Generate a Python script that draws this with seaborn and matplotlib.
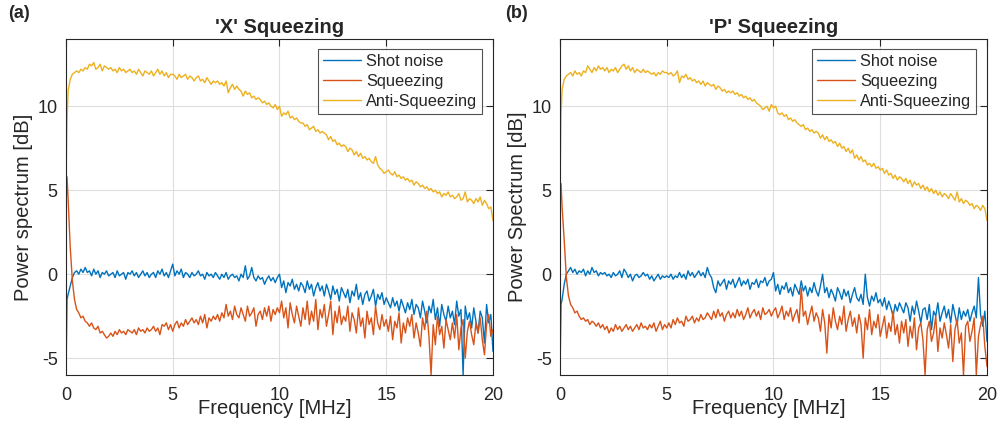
import matplotlib
matplotlib.use("Agg")
import matplotlib.pyplot as plt
import seaborn as sns
import pandas as pd

# frequency grid [MHz]: 0, 0.05, then 0.1 ... 20.0
freq = [0.0, 0.05] + [round(0.1 * i, 1) for i in range(1, 201)]

# ---- panel (a): 'X' squeezing ----
shot_a = [-6.0, -1.5,
    -1.2, -0.7, -0.2, 0.1, 0.2, 0.0, 0.3, 0.1, 0.4, 0.1,
    0.2, -0.1, 0.3, 0.0, 0.2, -0.2, 0.1, 0.0, 0.2, -0.1,
    0.0, 0.1, -0.2, 0.2, -0.1, 0.0, 0.1, -0.3, 0.1, 0.0,
    0.2, -0.1, 0.1, -0.2, 0.0, 0.2, -0.1, 0.1, -0.2, 0.0,
    0.1, -0.2, 0.2, 0.0, 0.3, -0.1, 0.1, -0.2, 0.2, 0.6,
    -0.1, 0.2, 0.0, 0.3, -0.2, 0.1, 0.0, -0.2, 0.1, -0.1,
    0.0, 0.2, -0.1, 0.0, -0.3, 0.1, -0.1, 0.0, -0.2, 0.1,
    -0.1, -0.3, 0.0, -0.2, 0.1, -0.3, -0.1, 0.0, -0.2, -0.1,
    -0.4, 0.0, -0.2, 0.5, -0.3, -0.1, 0.4, -0.2, -0.4, -0.1,
    -0.3, -0.2, -0.6, -0.3, -0.1, -0.4, -0.2, -0.5, -0.2, 0.0,
    -0.8, -0.4, -1.1, -0.5, -0.7, -0.3, -0.9, -0.6, -1.0, -0.5,
    -0.7, -1.1, -0.4, -0.9, -0.6, -1.3, -0.8, -0.5, -1.0, -0.7,
    -1.3, -0.6, -1.0, -1.5, -0.7, -1.2, -0.9, -1.6, -0.8, -1.1,
    -1.4, -0.9, -1.7, -1.0, -1.3, -0.6, -1.5, -1.1, -1.8, -1.2,
    -1.0, -1.6, -1.3, -0.9, -1.9, -1.2, -1.5, -1.1, -1.8, -1.4,
    -1.7, -2.0, -1.4, -1.9, -1.6, -2.2, -1.5, -1.9, -2.3, -1.7,
    -2.1, -1.5, -2.4, -1.8, -2.0, -2.6, -1.6, -2.2, -2.9, -1.9,
    -2.3, -1.5, -2.7, -2.0, -3.1, -1.8, -2.4, -2.8, -1.9, -2.6,
    -2.2, -3.0, -1.6, -2.5, -2.1, -6.0, -1.9, -2.7, -2.3, -3.2,
    -2.0, -2.8, -3.5, -2.2, -2.6, -4.1, -1.8, -2.9, -2.4, -4.6]

sq_a = [4.0, 5.8,
    4.5, 1.6, -0.4, -1.5, -2.1, -2.3, -2.6, -2.5, -2.8, -2.9,
    -3.1, -2.9, -3.2, -3.3, -3.1, -3.5, -3.4, -3.6, -3.8, -3.7,
    -3.5, -3.7, -3.4, -3.6, -3.3, -3.5, -3.4, -3.6, -3.3, -3.4,
    -3.5, -3.3, -3.6, -3.2, -3.4, -3.3, -3.5, -3.2, -3.4, -3.3,
    -3.1, -3.4, -3.2, -3.6, -3.0, -3.1, -2.9, -3.3, -3.0, -3.4,
    -3.0, -2.8, -3.2, -2.9, -3.1, -2.7, -3.0, -2.8, -2.6, -2.9,
    -2.7, -3.0, -2.5, -2.9, -2.4, -3.2, -2.6, -2.8, -2.5, -2.7,
    -2.4, -2.8, -2.3, -2.6, -1.8, -2.5, -2.2, -2.7, -1.9, -2.4,
    -2.6, -2.0, -2.4, -2.8, -1.9, -2.5, -2.3, -2.0, -3.1, -2.4,
    -2.2, -2.7, -2.0, -2.5, -1.9, -2.8, -2.1, -2.4, -2.0, -2.3,
    -1.6, -2.6, -2.0, -3.2, -1.7, -2.4, -2.9, -1.9, -2.5, -3.1,
    -2.0, -2.7, -1.6, -3.0, -2.2, -2.8, -1.5, -3.3, -2.1, -2.6,
    -1.8, -3.1, -2.4, -1.6, -3.6, -2.2, -2.9, -1.9, -3.0, -2.5,
    -2.8, -1.9, -3.4, -2.3, -2.7, -3.5, -2.0, -3.1, -2.6, -3.8,
    -2.2, -3.0, -2.6, -3.6, -1.9, -2.9, -3.3, -2.4, -3.1, -2.7,
    -3.4, -2.5, -3.9, -2.8, -3.2, -2.3, -4.1, -2.9, -3.5, -2.6,
    -3.1, -2.4, -3.8, -2.9, -3.5, -4.3, -2.6, -3.3, -2.2, -3.7,
    -6.0, -3.0, -4.2, -2.5, -3.6, -3.1, -4.4, -2.7, -3.3, -3.9,
    -2.9, -3.8, -2.4, -4.5, -3.2, -2.7, -5.0, -3.4, -2.8, -3.6,
    -4.2, -2.9, -3.5, -2.6, -3.9, -4.8, -3.0, -2.4, -3.7, -3.3]

anti_a = [5.5, 9.2,
    10.9, 11.6, 11.9, 12.0, 12.1, 12.0, 12.2, 12.1, 12.3, 12.2,
    12.5, 12.4, 12.6, 12.2, 12.3, 12.5, 12.1, 12.4, 12.3, 12.2,
    12.3, 12.1, 12.2, 12.0, 12.3, 12.1, 12.2, 12.0, 12.1, 12.2,
    12.0, 12.1, 11.9, 12.2, 12.0, 11.8, 12.1, 12.0, 11.9, 12.1,
    11.8, 12.0, 12.2, 11.9, 12.1, 11.8, 12.0, 11.7, 11.9, 11.9,
    11.8, 11.6, 11.9, 11.7, 11.8, 11.9, 11.6, 11.8, 11.7, 11.5,
    11.7, 11.8, 11.5, 11.6, 11.4, 11.7, 11.5, 11.3, 11.5, 11.4,
    11.5, 11.3, 11.4, 11.2, 11.5, 10.8, 11.1, 11.3, 11.0, 11.2,
    11.0, 10.9, 10.6, 10.9, 10.7, 10.8, 10.5, 10.6, 10.4, 10.5,
    10.4, 10.2, 10.3, 10.1, 10.2, 10.0, 9.9, 10.1, 9.8, 10.0,
    9.4, 9.6, 9.5, 9.7, 9.3, 9.4, 9.2, 9.3, 9.1, 9.0,
    9.0, 8.8, 8.9, 8.6, 8.7, 8.8, 8.5, 8.6, 8.4, 8.5,
    8.4, 8.3, 8.0, 8.2, 7.9, 8.0, 7.7, 7.8, 7.6, 7.7,
    7.6, 7.3, 7.5, 7.4, 7.1, 7.3, 7.0, 7.2, 6.9, 7.0,
    6.8, 6.9, 6.7, 6.6, 7.0, 6.5, 6.3, 6.2, 6.0, 6.1,
    6.2, 6.0, 5.9, 6.1, 5.8, 5.9, 5.7, 5.8, 5.6, 5.7,
    5.5, 5.6, 5.3, 5.5, 5.4, 5.2, 5.3, 5.1, 5.2, 5.0,
    5.1, 4.9, 5.0, 4.8, 4.9, 4.6, 4.8, 4.7, 4.9, 4.6,
    4.7, 4.5, 4.6, 4.8, 4.4, 4.5, 4.9, 4.3, 4.5, 4.4,
    4.2, 4.5, 4.3, 4.6, 4.1, 4.4, 4.2, 3.9, 4.0, 3.2]

# ---- panel (b): 'P' squeezing ----
shot_b = [-6.0, -1.8,
    -1.5, -0.6, 0.0, 0.2, 0.4, 0.1, 0.3, 0.0, 0.2, 0.1,
    0.3, -0.1, 0.2, 0.0, 0.4, 0.1, 0.2, -0.1, 0.1, 0.0,
    0.1, -0.1, 0.0, -0.2, 0.1, -0.1, 0.0, 0.2, -0.2, 0.3,
    0.1, -0.2, 0.0, -0.4, -0.1, 0.0, -0.2, -0.1, 0.1, -0.1,
    0.0, -0.3, -0.1, -0.4, -0.2, 0.0, -0.3, -0.1, -0.2, -0.1,
    -0.2, 0.0, -0.3, -0.1, -0.2, 0.1, -0.2, 0.0, -0.3, 0.2,
    -0.1, 0.1, -0.2, 0.0, 0.2, -0.1, 0.1, -0.2, 0.4, 0.0,
    -0.2, -0.8, -1.1, -0.4, -0.7, -0.5, -0.3, -0.9, -0.4, -0.6,
    -0.3, -0.8, -0.5, -0.2, -0.7, -0.4, -0.6, -0.3, -0.9, -0.5,
    -0.6, -0.3, -0.8, -0.4, -0.5, -0.2, -0.7, -0.4, -0.3, 0.1,
    -1.0, -0.6, -1.2, -0.7, -0.9, -0.5, -1.1, -0.8, -1.3, -0.6,
    -0.9, -1.2, -0.4, -1.0, -0.7, -1.3, -0.8, -1.1, -0.5, -1.0,
    -1.3, -0.7, 0.0, -1.1, -0.8, -1.4, -0.9, -1.2, -1.6, -0.8,
    -1.1, -1.5, -0.9, -1.3, -1.0, -1.7, -1.2, -0.8, -1.4, -1.6,
    -1.2, -1.8, 0.0, -1.4, -1.9, -1.3, -1.6, -1.1, -1.7, -1.5,
    -1.9, -1.4, -2.1, -1.6, -2.0, -2.5, -1.8, -2.2, -1.7, -2.0,
    -2.3, -1.7, -2.0, -2.8, -1.9, -2.4, -1.6, -2.2, -2.9, -2.1,
    -2.0, -2.7, -1.8, -3.3, -2.2, -2.5, -1.7, -2.8, -2.3, -1.9,
    -2.6, -2.1, -2.9, -1.8, -2.4, -3.0, -2.0, -2.7, -2.2, -2.5,
    -2.1, -2.8, -2.3, -1.9, -2.6, -0.2, -2.4, -3.1, -2.2, -4.0]

sq_b = [4.5, 5.4,
    4.0, 2.0, -0.2, -1.3, -1.8, -2.0, -2.3, -2.2, -2.5, -2.7,
    -2.6, -2.8, -2.7, -3.0, -2.8, -2.9, -3.1, -2.9, -3.2, -3.0,
    -3.3, -3.1, -3.5, -3.2, -3.4, -3.0, -3.3, -3.1, -3.4, -3.2,
    -3.0, -3.3, -3.1, -3.4, -3.2, -3.0, -3.3, -2.9, -3.2, -3.1,
    -3.3, -3.0, -3.2, -2.9, -3.4, -3.1, -2.8, -3.3, -3.0, -3.2,
    -2.9, -3.2, -2.7, -3.0, -2.6, -2.9, -2.8, -3.1, -2.5, -2.8,
    -2.7, -2.5, -2.9, -2.6, -2.8, -2.4, -2.7, -2.6, -2.3, -2.5,
    -2.7, -2.2, -2.6, -2.1, -2.5, -2.3, -2.8, -2.4, -2.2, -2.6,
    -2.3, -2.6, -2.1, -2.5, -2.2, -2.7, -2.4, -2.0, -2.6, -2.3,
    -2.1, -2.5, -2.2, -2.7, -2.0, -2.4, -2.3, -2.1, -2.5, -2.2,
    -2.0, -2.6, -2.3, -1.9, -2.7, -2.2, -2.5, -2.0, -2.8, -2.4,
    -2.1, -2.9, -0.8, -2.5, -2.2, -3.0, -2.4, -1.9, -2.8, -2.3,
    -2.6, -3.4, -2.1, -2.9, -4.7, -2.4, -3.2, -2.0, -2.8, -3.3,
    -2.5, -3.0, -1.9, -3.4, -2.7, -2.2, -3.1, -2.6, -3.5, -2.4,
    -3.0, -5.0, -2.6, -3.3, -2.1, -3.6, -2.8, -3.2, -2.4, -3.7,
    -3.1, -2.5, -3.8, -2.9, -3.4, -2.2, -3.6, -3.0, -4.1, -2.8,
    -3.5, -2.7, -4.3, -3.1, -3.8, -2.6, -4.5, -3.2, -2.9, -3.9,
    -6.0, -3.3, -2.8, -4.0, -3.5, -2.5, -4.6, -3.2, -3.8, -2.9,
    -3.6, -4.4, -3.0, -5.2, -3.3, -2.7, -4.1, -3.5, -6.0, -3.1,
    -2.8, -4.0, -3.4, -2.6, -6.0, -3.7, -3.0, -2.5, -4.3, -5.5]

anti_b = [5.0, 9.5,
    11.0, 11.6, 11.8, 11.9, 12.0, 11.8, 12.1, 11.9, 12.0, 11.8,
    12.1, 12.0, 12.4, 12.2, 12.0, 12.3, 12.1, 12.4, 12.2, 12.3,
    12.1, 12.3, 12.0, 12.2, 12.1, 12.3, 12.0, 12.2, 12.4, 12.5,
    12.2, 12.4, 12.1, 12.3, 12.0, 12.2, 12.1, 12.0, 12.2, 12.0,
    12.1, 12.0, 11.9, 12.0, 11.8, 12.0, 11.9, 12.1, 12.0, 12.0,
    11.9, 12.0, 11.8, 11.9, 12.1, 11.4, 11.8, 11.7, 11.9, 11.6,
    11.7, 11.5, 11.6, 11.4, 11.5, 11.3, 11.5, 11.2, 11.4, 11.3,
    11.2, 11.3, 11.0, 11.2, 11.1, 10.9, 11.0, 10.8, 10.9, 10.8,
    10.9, 10.7, 10.8, 10.6, 10.7, 10.5, 10.6, 10.4, 10.5, 10.3,
    10.4, 10.2, 10.1, 10.0, 9.8, 9.9, 10.0, 9.7, 10.1, 9.9,
    10.0, 9.6, 9.5, 9.6, 9.4, 9.5, 9.2, 9.3, 9.1, 9.2,
    9.0, 8.9, 8.8, 8.9, 8.6, 8.7, 8.5, 8.6, 8.4, 8.5,
    8.4, 8.1, 8.3, 8.0, 8.2, 7.9, 8.0, 7.8, 7.9, 7.6,
    7.8, 7.5, 7.6, 7.3, 7.5, 7.2, 7.4, 6.9, 7.1, 6.8,
    7.0, 6.7, 6.8, 6.5, 6.6, 6.4, 6.6, 6.3, 6.4, 6.2,
    6.3, 6.0, 6.2, 5.9, 6.0, 5.7, 5.9, 5.6, 5.8, 5.7,
    5.5, 5.7, 5.4, 5.6, 5.2, 5.5, 5.3, 5.4, 5.1, 5.3,
    5.0, 5.2, 4.9, 5.1, 4.8, 5.0, 4.7, 4.9, 4.6, 4.8,
    4.7, 4.5, 4.8, 4.6, 4.4, 4.9, 4.3, 4.5, 4.2, 4.4,
    4.3, 4.1, 4.2, 3.9, 4.1, 4.0, 3.8, 4.1, 3.9, 3.2]

series_names = ["Shot noise", "Squeezing", "Anti-Squeezing"]
colors = ["#0072BD", "#D95319", "#EDB120"]
x_ticks = [0, 5, 10, 15, 20]
y_ticks = [-5, 0, 5, 10]

sns.set_theme(style="white")
plt.rcParams['font.family'] = ['Liberation Sans', 'DejaVu Sans']
plt.rcParams['axes.unicode_minus'] = False

fig = plt.figure(figsize=(10.01, 4.23), dpi=100)

panels = [
    ("(a)", "'X' Squeezing", "Power spectrum [dB]", [shot_a, sq_a, anti_a], 0.0659, 0.008),
    ("(b)", "'P' Squeezing", "Power Spectrum [dB]", [shot_b, sq_b, anti_b], 0.5594, 0.5045),
]

for tag, title, ylab, data, left, tag_x in panels:
    ax = fig.add_axes([left, 0.1135, 0.4266, 0.7943])
    df = pd.DataFrame({"freq": freq})
    for name, vals, c in zip(series_names, data, colors):
        df[name] = vals
        sns.lineplot(data=df, x="freq", y=name, ax=ax, color=c, lw=1.0,
                     label=name, estimator=None, sort=False)

    ax.set_xlim(0, 20)
    ax.set_ylim(-6, 14)
    ax.set_xticks(x_ticks)
    ax.set_yticks(y_ticks)
    ax.grid(True, color="#dedede", lw=0.8)
    ax.tick_params(direction="in", top=True, right=True, length=5, width=0.8,
                   color="#262626", labelsize=13, labelcolor="#262626")
    ax.tick_params(axis="x", pad=9)
    ax.tick_params(axis="y", pad=6)
    for s in ax.spines.values():
        s.set_color("#262626")
        s.set_linewidth(0.8)

    ax.set_xlabel("Frequency [MHz]", fontsize=14.5, color="#262626")
    ax.set_ylabel(ylab, fontsize=14.5, color="#262626")
    ax.xaxis.set_label_coords(0.49, -0.07)
    ax.yaxis.set_label_coords(-0.077, 0.5)
    ax.set_title(title, fontsize=14.5, fontweight="bold", pad=4)

    leg = ax.legend(loc="upper right", bbox_to_anchor=(0.974, 0.970),
                    borderaxespad=0, fontsize=11.8, frameon=True, fancybox=False,
                    handlelength=2.3, handletextpad=0.3, labelspacing=0.3,
                    borderpad=0.3)
    leg.get_frame().set_edgecolor("#262626")
    leg.get_frame().set_linewidth(0.8)

    fig.text(tag_x, 0.968, tag, fontsize=13, fontweight="bold",
             va="center", ha="left")

fig.savefig("out.png", dpi=100)
